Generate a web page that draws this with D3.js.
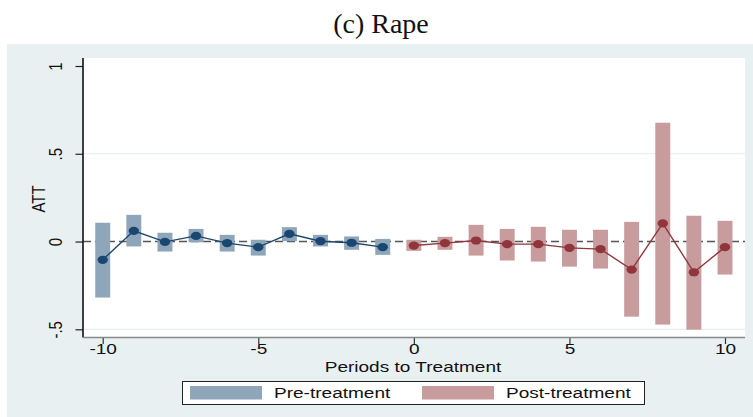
<!DOCTYPE html>
<html>
<head>
<meta charset="utf-8">
<script src="https://cdn.jsdelivr.net/npm/d3@7"></script>
<style>
  html, body { margin: 0; padding: 0; background: #ffffff; }
  svg { display: block; }
</style>
</head>
<body>
<svg id="chart" width="753" height="417"></svg>
<script>
// Event-study estimates: ATT by period relative to treatment, with 95% CI bars
const periodsPre  = [-10, -9, -8, -7, -6, -5, -4, -3, -2, -1];
const attPre      = [-0.104, 0.061, -0.002, 0.032, -0.009, -0.032, 0.044, 0.002, -0.007, -0.032];
const ciLowPre    = [-0.319, -0.028, -0.057, -0.004, -0.057, -0.080, 0.002, -0.028, -0.047, -0.076];
const ciHighPre   = [0.107, 0.152, 0.050, 0.072, 0.038, 0.010, 0.082, 0.038, 0.029, 0.015];

const periodsPost = [0, 1, 2, 3, 4, 5, 6, 7, 8, 9, 10];
const attPost     = [-0.023, -0.009, 0.006, -0.015, -0.015, -0.036, -0.043, -0.160, 0.103, -0.175, -0.032];
const ciLowPost   = [-0.053, -0.047, -0.080, -0.108, -0.114, -0.143, -0.154, -0.428, -0.473, -0.502, -0.188];
const ciHighPost  = [0.010, 0.027, 0.095, 0.072, 0.084, 0.067, 0.067, 0.112, 0.677, 0.147, 0.118];

const xTicks = [-10, -5, 0, 5, 10];
const yTicks = [-0.5, 0, 0.5, 1];
const yTickLabels = ["-.5", "0", ".5", "1"];
const gridValues = [-0.5, 0.5];

const titleText = "(c) Rape";
const xTitle = "Periods to Treatment";
const yTitle = "ATT";
const legendLabels = ["Pre-treatment", "Post-treatment"];

const colors = {
  pre:  { bar: "#8fa5ba", line: "#1a476f" },
  post: { bar: "#c89b9d", line: "#90353b" }
};

const svg = d3.select("#chart");
const W = 753, H = 417;
const sx = 1.27; // horizontal stretch applied to sans-serif labels

// regions
const outer = { x: 7, y: 44, w: W - 7, h: H - 44 };
const plot = { left: 83, right: 745, top: 58, bottom: 337.5 };

const x = d3.scaleLinear().domain([-10, 10]).range([102.7, 725]);
const y = d3.scaleLinear().domain([-0.5, 1]).range([329.3, 66]);
const halfBar = 0.24;

svg.append("rect").attr("x", outer.x).attr("y", outer.y)
  .attr("width", outer.w).attr("height", outer.h).attr("fill", "#e9f0f2");
svg.append("rect").attr("x", plot.left).attr("y", plot.top)
  .attr("width", plot.right - plot.left).attr("height", plot.bottom - plot.top)
  .attr("fill", "#ffffff");

// title
svg.append("text").attr("x", 381).attr("y", 33)
  .attr("text-anchor", "middle")
  .attr("font-family", "'Liberation Serif', 'DejaVu Serif', serif")
  .attr("font-size", 28).attr("fill", "#111")
  .text(titleText);

// grid lines
svg.append("g").selectAll("line").data(gridValues).join("line")
  .attr("x1", plot.left).attr("x2", plot.right)
  .attr("y1", d => y(d)).attr("y2", d => y(d))
  .attr("stroke", "#e6eded").attr("stroke-width", 1.2);

// zero reference line
svg.append("line")
  .attr("x1", plot.left).attr("x2", plot.right)
  .attr("y1", y(0)).attr("y2", y(0))
  .attr("stroke", "#555").attr("stroke-width", 1.5)
  .attr("stroke-dasharray", "8,4");

function drawSeries(periods, att, lo, hi, col) {
  const data = periods.map((p, i) => ({ p, v: att[i], lo: lo[i], hi: hi[i] }));
  const g = svg.append("g");
  g.selectAll("rect").data(data).join("rect")
    .attr("x", d => x(d.p - halfBar))
    .attr("width", d => x(d.p + halfBar) - x(d.p - halfBar))
    .attr("y", d => y(d.hi))
    .attr("height", d => y(d.lo) - y(d.hi))
    .attr("fill", col.bar);
  g.append("path").datum(data)
    .attr("d", d3.line().x(d => x(d.p)).y(d => y(d.v)))
    .attr("fill", "none").attr("stroke", col.line).attr("stroke-width", 1.4);
  g.selectAll("ellipse").data(data).join("ellipse")
    .attr("cx", d => x(d.p)).attr("cy", d => y(d.v))
    .attr("rx", 5.2).attr("ry", 4.1)
    .attr("fill", col.line);
}
drawSeries(periodsPre, attPre, ciLowPre, ciHighPre, colors.pre);
drawSeries(periodsPost, attPost, ciLowPost, ciHighPost, colors.post);

const sans = "'Liberation Sans', Arial, sans-serif";

// y axis
const yAxis = svg.append("g").attr("transform", `translate(${plot.left},0)`)
  .call(d3.axisLeft(y).tickValues(yTicks).tickSize(7.5)
    .tickFormat((d, i) => yTickLabels[i]));
yAxis.select(".domain").remove();
yAxis.selectAll(".tick line").attr("stroke", "#222").attr("stroke-width", 1.2);
yAxis.selectAll(".tick text")
  .attr("x", 0).attr("y", 0).attr("dy", null)
  .attr("text-anchor", "middle")
  .attr("transform", `translate(-21,0) scale(${sx},1) rotate(-90)`)
  .attr("font-family", sans).attr("font-size", 15).attr("fill", "#111");
svg.append("line").attr("x1", plot.left).attr("x2", plot.left)
  .attr("y1", plot.top).attr("y2", plot.bottom)
  .attr("stroke", "#111").attr("stroke-width", 1.6);

// x axis
const xAxis = svg.append("g").attr("transform", `translate(0,${plot.bottom})`)
  .call(d3.axisBottom(x).tickValues(xTicks).tickSize(6.5).tickFormat(d3.format("d")));
xAxis.select(".domain").remove();
xAxis.selectAll(".tick line").attr("stroke", "#333").attr("stroke-width", 1.2);
xAxis.selectAll(".tick text")
  .attr("y", 0).attr("dy", null)
  .attr("transform", `translate(0,16.5) scale(${sx},1)`)
  .attr("font-family", sans).attr("font-size", 15).attr("fill", "#111")
  .text(d => d < 0 ? "-" + Math.abs(d) : String(d));
svg.append("line").attr("x1", plot.left).attr("x2", plot.right)
  .attr("y1", plot.bottom).attr("y2", plot.bottom)
  .attr("stroke", "#888").attr("stroke-width", 1.6);

// axis titles
svg.append("text")
  .attr("transform", `translate(413,371.5) scale(${sx},1)`)
  .attr("text-anchor", "middle").attr("font-family", sans)
  .attr("font-size", 15).attr("fill", "#111").text(xTitle);
svg.append("text")
  .attr("transform", `translate(45,199) scale(${sx},1) rotate(-90)`)
  .attr("text-anchor", "middle").attr("font-family", sans)
  .attr("font-size", 15).attr("fill", "#111").text(yTitle);

// legend
const lg = svg.append("g");
lg.append("rect").attr("x", 182.5).attr("y", 381.5).attr("width", 462).attr("height", 23)
  .attr("fill", "#ffffff").attr("stroke", "#222").attr("stroke-width", 1);
const legendItems = [
  { label: legendLabels[0], color: colors.pre.bar, sw: 190, tx: 274 },
  { label: legendLabels[1], color: colors.post.bar, sw: 422, tx: 506 }
];
legendItems.forEach(it => {
  lg.append("rect").attr("x", it.sw).attr("y", 386).attr("width", 72).attr("height", 13.5)
    .attr("fill", it.color);
  lg.append("text")
    .attr("transform", `translate(${it.tx},397.5) scale(${sx},1)`)
    .attr("font-family", sans).attr("font-size", 15).attr("fill", "#111")
    .text(it.label);
});
</script>
</body>
</html>
